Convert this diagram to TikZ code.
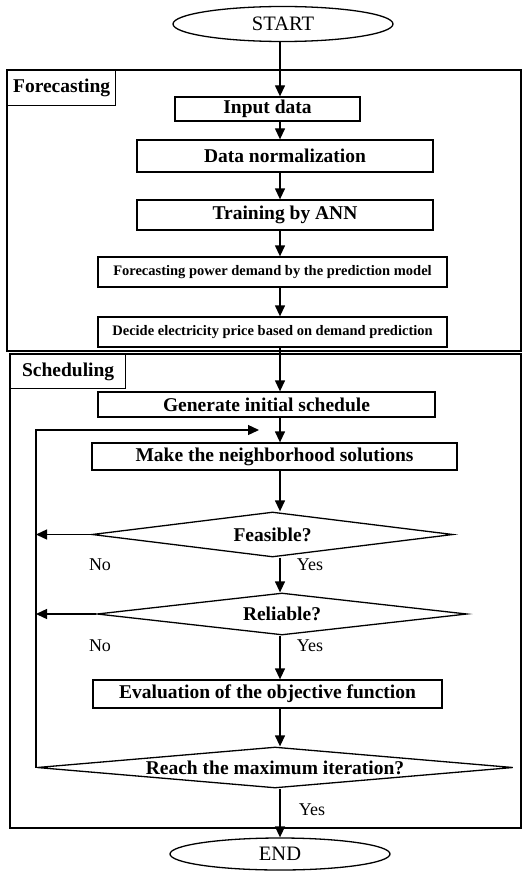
\documentclass[tikz,border=0pt]{standalone}
\usepackage{fontspec}
\setmainfont{Liberation Serif}
\usetikzlibrary{shapes.geometric,arrows.meta}

\tikzset{
  box/.style={draw, rectangle, line width=1.3pt, inner sep=0pt,
    font=\bfseries\fontsize{19.5}{20}\selectfont},
  smallbox/.style={box, font=\bfseries\fontsize{14.5}{15}\selectfont},
  decide/.style={draw, diamond, aspect=11.5, line width=1.3pt, inner sep=0pt,
    font=\bfseries\fontsize{19.5}{20}\selectfont},
  term/.style={draw, ellipse, line width=1.3pt, inner sep=0pt,
    minimum width=220pt, font=\fontsize{20.5}{21}\selectfont},
  frame/.style={draw, line width=1.6pt},
  tag/.style={draw, rectangle, line width=1.3pt, inner sep=0pt, anchor=north west,
    font=\bfseries\fontsize{19.5}{20}\selectfont},
  lbl/.style={font=\fontsize{18}{18}\selectfont},
  arr/.style={-{Triangle[length=11pt,width=10pt]}, line width=1.3pt}
}

\begin{document}
\begin{tikzpicture}[x=1pt,y=-1pt]
\useasboundingbox (0,0) rectangle (523,872);

\coordinate (axis) at (280,0);

% Frames
\draw[frame] (7,70) rectangle (521,351);
\draw[frame] (10,354) rectangle (521,828);
\node[tag, minimum width=108pt, minimum height=35pt] (fc) at (7,70) {Forecasting};
\node[tag, minimum width=115pt, minimum height=34pt] (sc) at (10,354) {Scheduling};

% Steps
\node[term, minimum height=35pt] (start) at (283,24) {START};
\node[box, minimum width=185pt, minimum height=24pt] (input) at (267.5,109) {Input data};
\node[box, minimum width=296pt, minimum height=32pt] (norm) at (285,156) {Data normalization};
\node[box, minimum width=296pt, minimum height=30pt] (ann) at (285,215) {Training by ANN};
\node[smallbox, minimum width=349pt, minimum height=30pt] (fpd) at (272.5,272) {Forecasting power demand by the prediction model};
\node[smallbox, minimum width=349pt, minimum height=30pt] (price) at (272.5,332) {Decide electricity price based on demand prediction};
\node[box, minimum width=337pt, minimum height=25pt] (gen) at (266.5,404.5) {Generate initial schedule};
\node[box, minimum width=365pt, minimum height=27pt] (make) at (274.5,456.5) {Make the neighborhood solutions};
\node[decide, minimum width=361pt, minimum height=45pt] (feas) at (272.5,534.5) {Feasible?};
\node[decide, minimum width=370pt, minimum height=42pt] (reli) at (282,614) {Reliable?};
\node[box, minimum width=349pt, minimum height=28pt] (eval) at (267.5,694) {Evaluation of the objective function};
\node[decide, minimum width=476pt, minimum height=41pt] (reach) at (275,767.5) {Reach the maximum iteration?};
\node[term, minimum height=32pt] (stop) at (280,854) {END};

% Main flow
\foreach \a/\b in {start/input, input/norm, norm/ann, ann/fpd, fpd/price,
                   price/gen, gen/make, make/feas, feas/reli, reli/eval,
                   eval/reach, reach/stop}
  \draw[arr] (\a.south -| axis) -- (\b.north -| axis);

% Loop back
\coordinate (loop) at (36,430);
\draw[arr] (feas.west) -- (feas.west -| loop);
\draw[arr] (reli.west) -- (reli.west -| loop);
\draw[arr, shorten >=21pt] (reach.west) -| (loop) -- (loop -| axis);

% Branch labels
\node[lbl] (no1) at (100,565) {No};
\node[lbl] (yes1) at (310,565) {Yes};
\node[lbl] (no2) at (100,646) {No};
\node[lbl] (yes2) at (310,646) {Yes};
\node[lbl] (yes3) at (312,810) {Yes};

\end{tikzpicture}
\end{document}
